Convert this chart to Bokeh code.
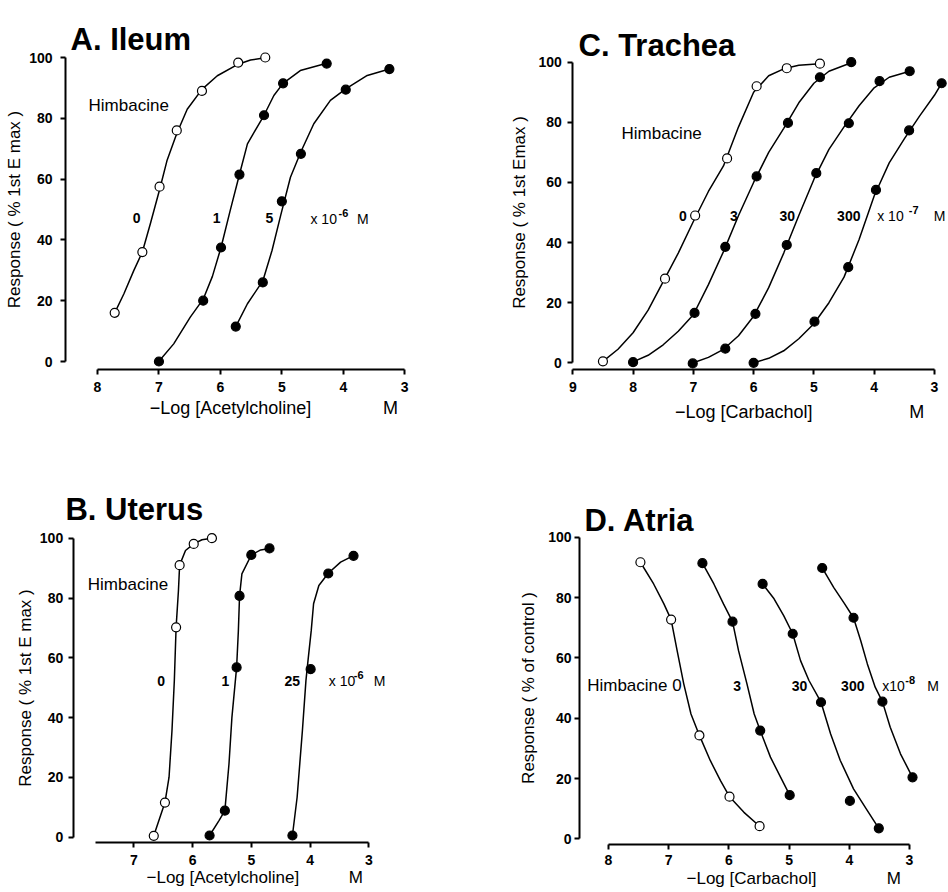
from bokeh.plotting import figure
from bokeh.models import Range1d, Label, FixedTicker
from bokeh.layouts import row, column
from bokeh.embed import file_html
from bokeh.resources import INLINE

FONT = "Liberation Sans"

# ---------------- data ----------------
Y_TICKS = [0, 20, 40, 60, 80, 100]

# A. Ileum  (-log[ACh], % 1st Emax)
A_x_0 = [7.72, 7.27, 6.99, 6.71, 6.30, 5.71, 5.27]
A_y_0 = [16, 36, 57.5, 76, 89, 98.3, 100]
A_x_1 = [7.0, 6.28, 5.99, 5.69, 5.29, 4.98, 4.27]
A_y_1 = [0, 20, 37.5, 61.5, 81, 91.5, 98]
A_x_5 = [5.75, 5.31, 5.0, 4.69, 3.96, 3.25]
A_y_5 = [11.5, 26, 52.7, 68.3, 89.4, 96.2]
A_cx_0 = [7.72, 7.57, 7.41, 7.27, 7.14, 6.99, 6.87, 6.71, 6.54, 6.30, 6.05, 5.71, 5.51, 5.27]
A_cy_0 = [16, 22.3, 29.9, 36, 45.3, 56.5, 66, 75, 83, 89.5, 94, 97.8, 99.2, 99.9]
A_cx_1 = [7.0, 6.76, 6.49, 6.28, 6.13, 5.99, 5.84, 5.69, 5.56, 5.29, 5.13, 4.98, 4.70, 4.27]
A_cy_1 = [0.1, 5.8, 14.6, 20.5, 28, 37.5, 49.7, 61.5, 71.6, 81, 87.5, 91.5, 95.7, 98.1]
A_cx_5 = [5.75, 5.56, 5.31, 5.16, 5.02, 4.86, 4.69, 4.48, 4.21, 3.96, 3.61, 3.25]
A_cy_5 = [11.5, 19, 26.5, 36.5, 48, 60.6, 69, 78.2, 85.9, 89.7, 94.1, 96.2]
A_x_ticks = [3, 4, 5, 6, 7, 8]

# C. Trachea  (-log[carbachol], % 1st Emax)
C_x_0 = [8.5, 7.47, 6.97, 6.44, 5.95, 5.45, 4.90]
C_y_0 = [0.5, 28, 49, 68, 92, 98, 99.5]
C_x_3 = [8.0, 6.98, 6.47, 5.95, 5.43, 4.90, 4.38]
C_y_3 = [0.2, 16.6, 38.6, 62, 79.8, 95, 100]
C_x_30 = [7.01, 6.47, 5.97, 5.45, 4.96, 4.42, 3.91, 3.41]
C_y_30 = [-0.2, 4.7, 16.3, 39.2, 63.1, 79.7, 93.7, 97]
C_x_300 = [6.0, 4.99, 4.43, 3.97, 3.42, 2.88]
C_y_300 = [0, 13.7, 31.8, 57.5, 77.3, 93]
C_cx_0 = [8.5, 8.25, 8.0, 7.75, 7.5, 7.25, 7.0, 6.75, 6.5, 6.25, 6.0, 5.75, 5.5, 5.25, 4.9]
C_cy_0 = [0.5, 4.5, 10, 17.5, 27, 36.5, 47, 57, 65.5, 78.5, 90, 95.5, 97.8, 99, 99.5]
C_cx_3 = [8.0, 7.75, 7.5, 7.25, 7.0, 6.75, 6.5, 6.25, 6.0, 5.75, 5.5, 5.25, 5.0, 4.75, 4.38]
C_cy_3 = [0.3, 2.5, 6, 10.5, 16, 26, 37, 49, 60, 70, 78, 86.5, 93, 97, 99.8]
C_cx_30 = [7.0, 6.75, 6.5, 6.25, 6.0, 5.75, 5.5, 5.25, 5.0, 4.75, 4.5, 4.25, 4.0, 3.75, 3.41]
C_cy_30 = [0, 1.8, 4.5, 9, 15.5, 25, 36.5, 49, 61, 71, 78.5, 85.5, 91.5, 95, 97]
C_cx_300 = [6.0, 5.75, 5.5, 5.25, 5.0, 4.75, 4.5, 4.25, 4.0, 3.75, 3.5, 3.25, 3.0, 2.88]
C_cy_300 = [0, 1.5, 4, 8, 13, 20, 28.5, 41, 55.5, 66.5, 74.5, 82, 89, 93]
C_x_ticks = [3, 4, 5, 6, 7, 8, 9]

# B. Uterus  (-log[ACh], % 1st Emax)
B_x_0 = [6.66, 6.47, 6.28, 6.22, 5.98, 5.67]
B_y_0 = [0.5, 11.6, 70.2, 91, 98.1, 100]
B_x_1 = [5.71, 5.45, 5.25, 5.20, 5.0, 4.69]
B_y_1 = [0.6, 8.9, 56.8, 80.7, 94.4, 96.6]
B_x_25 = [4.30, 3.99, 3.69, 3.26]
B_y_25 = [0.6, 56.2, 88.2, 94.1]
B_cx_0 = [6.66, 6.47, 6.40, 6.35, 6.31, 6.28, 6.24, 6.22, 6.12, 5.98, 5.84, 5.67]
B_cy_0 = [0.5, 11.6, 20.1, 35.7, 52.4, 70.2, 82.5, 91, 95.9, 98.1, 99.5, 100]
B_cx_1 = [5.71, 5.55, 5.45, 5.38, 5.33, 5.25, 5.22, 5.20, 5.16, 5.0, 4.84, 4.69]
B_cy_1 = [0.6, 5.6, 8.9, 24.5, 40.1, 56.8, 69.1, 80.7, 88.1, 94.4, 96.1, 96.6]
B_cx_25 = [4.30, 4.22, 4.13, 4.07, 4.03, 3.98, 3.94, 3.85, 3.69, 3.48, 3.26]
B_cy_25 = [0.6, 13.4, 35.7, 52.4, 60, 69.1, 78.1, 84.2, 88.3, 92, 94.2]
B_x_ticks = [3, 4, 5, 6, 7]

# D. Atria  (-log[carbachol], % of control)
D_x_0 = [7.47, 6.96, 6.49, 5.99, 5.49]
D_y_0 = [91.7, 72.7, 34.3, 14, 4.2]
D_x_3 = [6.44, 5.94, 5.48, 4.99]
D_y_3 = [91.4, 72, 35.9, 14.5]
D_x_30 = [5.44, 4.94, 4.47, 3.99, 3.51]
D_y_30 = [84.5, 68, 45.3, 12.6, 3.5]
D_x_300 = [4.45, 3.93, 3.45, 2.95]
D_y_300 = [89.8, 73.3, 45.5, 20.4]
D_cx_0 = [7.47, 7.25, 7.08, 6.96, 6.86, 6.75, 6.63, 6.49, 6.31, 6.14, 5.99, 5.75, 5.49]
D_cy_0 = [91.7, 84.5, 77.9, 72.7, 62.4, 51.4, 41.4, 34.3, 26, 19.3, 14, 8.8, 4.2]
D_cx_3 = [6.44, 6.25, 6.09, 5.94, 5.84, 5.70, 5.58, 5.48, 5.31, 5.14, 4.99]
D_cy_3 = [91.4, 84.5, 77.9, 72, 62.4, 51.4, 41.4, 35.9, 27.1, 20.4, 14.5]
D_cx_30 = [5.44, 5.25, 5.09, 4.94, 4.81, 4.67, 4.47, 4.31, 4.15, 3.93, 3.70, 3.51]
D_cy_30 = [84.5, 79.6, 74, 68, 59.1, 52.5, 45.3, 34.8, 26, 16.6, 9.4, 3.5]
D_cx_300 = [4.45, 4.26, 4.08, 3.93, 3.81, 3.70, 3.57, 3.45, 3.32, 3.15, 2.95]
D_cy_300 = [89.8, 83.4, 78, 73.3, 65.7, 58, 50.3, 45.5, 37, 28.2, 20.4]
D_x_ticks = [3, 4, 5, 6, 7, 8]


# ---------------- helpers ----------------
def make_panel(width, height, xr, yr, yaxis_at, xaxis_at, xbounds, xticks, ylabel,
               ylab_standoff, yaxis_label_standoff, xlab_standoff):
    p = figure(width=width, height=height, title=None,
               x_range=Range1d(*xr), y_range=Range1d(*yr),
               output_backend="svg", toolbar_location=None,
               min_border_left=0, min_border_right=0,
               min_border_top=0, min_border_bottom=0)
    p.outline_line_color = None
    p.grid.visible = False
    p.background_fill_color = "white"
    p.border_fill_color = "white"
    xa = p.xaxis[0]
    ya = p.yaxis[0]
    xa.fixed_location = xaxis_at
    ya.fixed_location = yaxis_at
    xa.bounds = xbounds
    ya.bounds = (0, 100)
    xa.ticker = FixedTicker(ticks=xticks)
    ya.ticker = FixedTicker(ticks=Y_TICKS)
    for ax in (xa, ya):
        ax.axis_line_width = 2
        ax.axis_line_color = "black"
        ax.major_tick_line_width = 2
        ax.major_tick_line_color = "black"
        ax.major_tick_in = 0
        ax.major_tick_out = 5
        ax.minor_tick_line_color = None
        ax.major_label_text_font = FONT
        ax.major_label_text_font_size = "14px"
        ax.major_label_text_font_style = "bold"
        ax.major_label_text_color = "black"
    xa.major_label_standoff = xlab_standoff
    ya.major_label_standoff = ylab_standoff
    ya.axis_label = ylabel
    ya.axis_label_standoff = yaxis_label_standoff
    ya.axis_label_text_font = FONT
    ya.axis_label_text_font_size = "17px"
    ya.axis_label_text_font_style = "normal"
    ya.axis_label_text_color = "black"
    return p


def add_text(p, x, y, text, size="14px", style="normal", align="left",
             baseline="middle", y_offset=0):
    p.add_layout(Label(x=x, y=y, text=text, text_font=FONT,
                       text_font_size=size, text_font_style=style,
                       text_align=align, text_baseline=baseline,
                       y_offset=y_offset, text_color="black"))


def add_series(p, cx, cy, px, py, filled):
    p.line(cx, cy, line_color="black", line_width=1.5)
    p.scatter(px, py, marker="circle", size=9, line_color="black",
              line_width=1.2, fill_color="black" if filled else "white")


def add_conc_unit(p, main, x_main, x_sup, x_m, y, sup):
    add_text(p, x_main, y, main, size="14px")
    add_text(p, x_sup, y, sup, size="11px", style="bold", y_offset=6)
    add_text(p, x_m, y, "M", size="14px")


# ---------------- A. Ileum ----------------
pA = make_panel(474, 446, (9.5785, 1.8649), (-27.96, 118.75), 8.5208, -2.63,
                (3, 8), A_x_ticks, "Response ( % 1st E max )", 8, 2, 8)
add_series(pA, A_cx_0, A_cy_0, A_x_0, A_y_0, False)
add_series(pA, A_cx_1, A_cy_1, A_x_1, A_y_1, True)
add_series(pA, A_cx_5, A_cy_5, A_x_5, A_y_5, True)
add_text(pA, 8.439, 105.9, "A. Ileum", size="31px", style="bold", baseline="alphabetic")
add_text(pA, 8.146, 84.3, "Himbacine", size="17px")
add_text(pA, 7.365, 47.2, "0", style="bold", align="center")
add_text(pA, 6.063, 47.2, "1", style="bold", align="center")
add_text(pA, 5.201, 47.2, "5", style="bold", align="center")
add_conc_unit(pA, "x 10", 4.534, 4.078, 3.777, 46.9, "-6")
add_text(pA, 5.836, -15.46, "\u2212Log [Acetylcholine]", size="18px", align="center")
add_text(pA, 3.232, -15.46, "M", size="18px", align="center")

# ---------------- C. Trachea ----------------
pC = make_panel(474, 446, (10.631, 2.7664), (-27.84, 120.53), 9.0, -2.33,
                (3, 9), C_x_ticks, "Response ( % 1st Emax )", 6, 6, 7)
add_series(pC, C_cx_0, C_cy_0, C_x_0, C_y_0, False)
add_series(pC, C_cx_3, C_cy_3, C_x_3, C_y_3, True)
add_series(pC, C_cx_30, C_cy_30, C_x_30, C_y_30, True)
add_series(pC, C_cx_300, C_cy_300, C_x_300, C_y_300, True)
add_text(pC, 8.905, 105.56, "C. Trachea", size="31px", style="bold", baseline="alphabetic")
add_text(pC, 8.192, 76.3, "Himbacine", size="17px")
add_text(pC, 7.175, 49.0, "0", style="bold", align="center")
add_text(pC, 6.329, 49.0, "3", style="bold", align="center")
add_text(pC, 5.443, 49.0, "30", style="bold", align="center")
add_text(pC, 4.421, 49.0, "300", style="bold", align="center")
add_conc_unit(pC, "x 10", 3.949, 3.425, 3.010, 49.0, "-7")
add_text(pC, 6.164, -16.2, "\u2212Log [Carbachol]", size="18px", align="center")
add_text(pC, 3.293, -16.2, "M", size="18px", align="center")

# ---------------- B. Uterus ----------------
pB = make_panel(474, 446, (9.2689, 1.2009), (-18.46, 130.67), 8.0315, -1.77,
                (3, 7.66), B_x_ticks, "Response ( % 1st E max )", 5, 2, 7)
add_series(pB, B_cx_0, B_cy_0, B_x_0, B_y_0, False)
add_series(pB, B_cx_1, B_cy_1, B_x_1, B_y_1, True)
add_series(pB, B_cx_25, B_cy_25, B_x_25, B_y_25, True)
add_text(pB, 8.163, 109.6, "B. Uterus", size="31px", style="bold", baseline="alphabetic")
add_text(pB, 7.783, 84.4, "Himbacine", size="17px")
add_text(pB, 6.534, 52.2, "0", style="bold", align="center")
add_text(pB, 5.439, 52.2, "1", style="bold", align="center")
add_text(pB, 4.304, 52.2, "25", style="bold", align="center")
add_conc_unit(pB, "x 10", 3.681, 3.255, 2.915, 52.2, "-6")
add_text(pB, 5.485, -13.6, "\u2212Log [Acetylcholine]", size="17px", align="center")
add_text(pB, 3.221, -13.6, "M", size="17px", align="center")

# ---------------- D. Atria ----------------
pD = make_panel(474, 446, (10.226, 2.3522), (-17.77, 130.07), 8.4817, -1.79,
                (3, 8), D_x_ticks, "Response ( % of control )", 3, 7, 6)
add_series(pD, D_cx_0, D_cy_0, D_x_0, D_y_0, False)
add_series(pD, D_cx_3, D_cy_3, D_x_3, D_y_3, True)
add_series(pD, D_cx_30, D_cy_30, D_x_30, D_y_30, True)
add_series(pD, D_cx_300, D_cy_300, D_x_300, D_y_300, True)
add_text(pD, 8.399, 105.5, "D. Atria", size="31px", style="bold", baseline="alphabetic")
add_text(pD, 8.354, 50.8, "Himbacine 0", size="17px")
add_text(pD, 5.862, 50.8, "3", style="bold", align="center")
add_text(pD, 4.827, 50.8, "30", style="bold", align="center")
add_text(pD, 3.942, 50.8, "300", style="bold", align="center")
add_conc_unit(pD, "x10", 3.453, 3.070, 2.706, 50.8, "-8")
add_text(pD, 5.625, -13.0, "\u2212Log [Carbachol]", size="17px", align="center")
add_text(pD, 3.26, -13.0, "M", size="17px", align="center")

layout = column(row(pA, pC), row(pB, pD))

with open("out.html", "w") as f:
    f.write(file_html(layout, INLINE))
